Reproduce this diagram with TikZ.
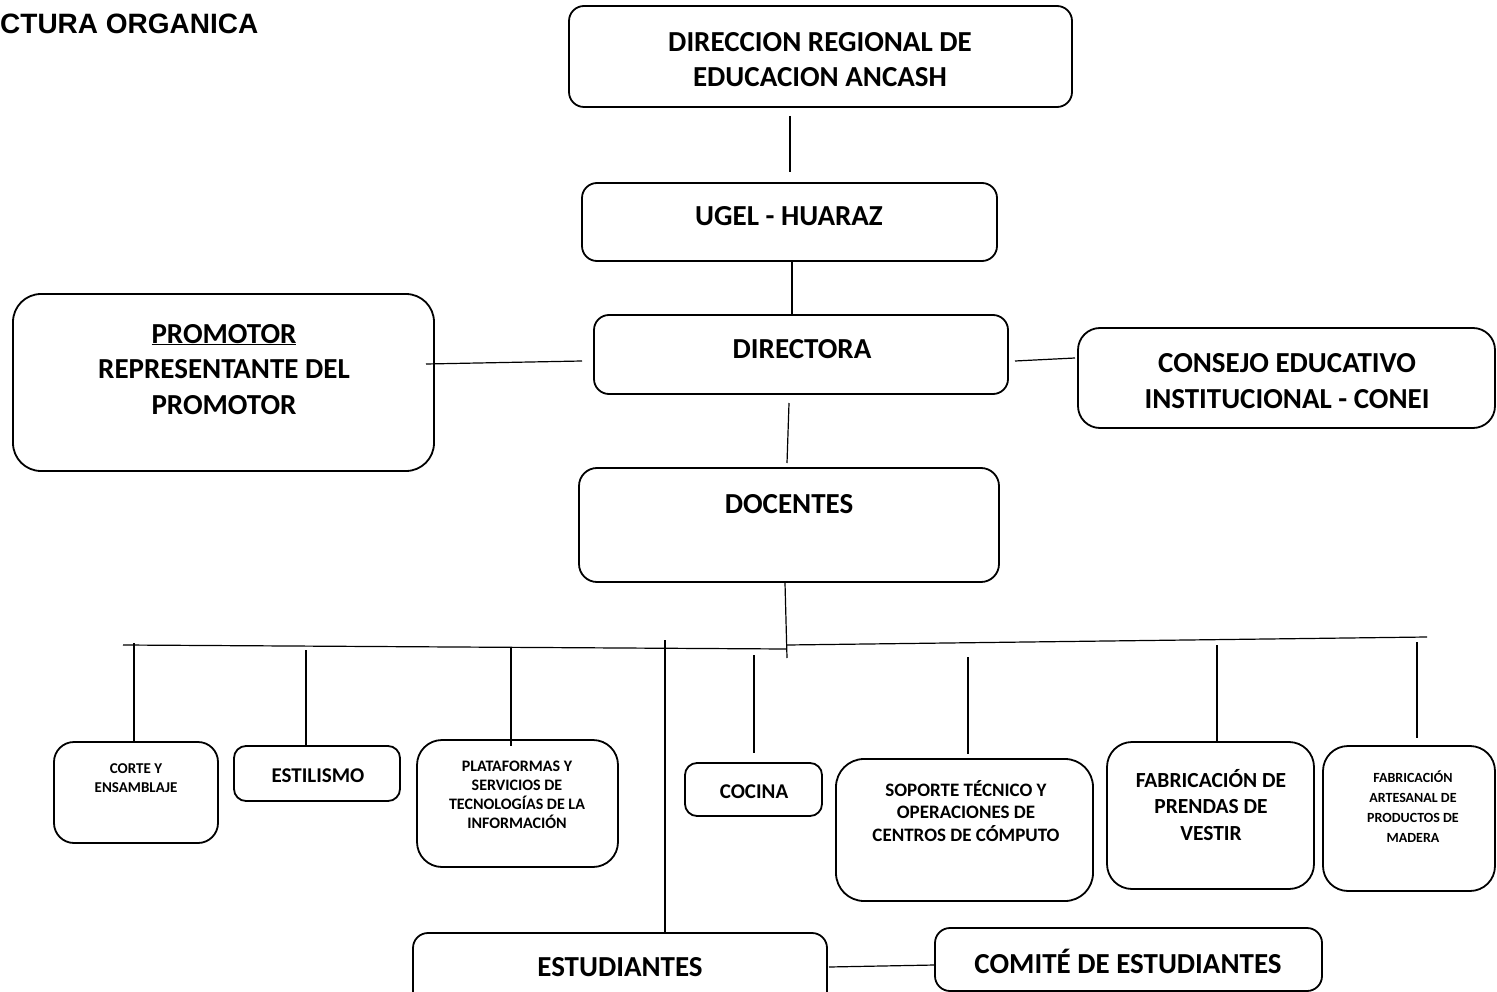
\documentclass[tikz,border=0pt]{standalone}
\usepackage{fontspec}
\setmainfont{Carlito}
\newfontfamily\titlefont{Liberation Sans}
\newcommand{\fsz}[2]{\fontsize{#1}{#2}\selectfont}
\newcommand{\mkbox}[6]{%
  \node[box=#2, minimum width={#5-#3}, minimum height={#6-#4}] (#1) at ({(#3+#5)/2},{(#4+#6)/2}) {};}
\tikzset{
  box/.style={draw, line width=1.8pt, rounded corners=#1, inner sep=0pt, outer sep=0pt},
  box/.default=15pt,
  conn/.style={line width=1.2pt},
  lbl/.style={inner sep=0pt, outer sep=0pt, align=center, anchor=base, font=\bfseries},
}
\begin{document}
\begin{tikzpicture}[x=1pt,y=-1pt]
\useasboundingbox (0,0) rectangle (1497,992);
\clip (0,0) rectangle (1497,992);
\fill[white] (0,0) rectangle (1497,992);

% title
\node[inner sep=0pt, anchor=base west, font=\titlefont\bfseries\fsz{28}{33}] (title) at (0,34) {CTURA ORGANICA};

% boxes
\mkbox{dre}{15pt}{569}{6}{1072}{107}
\mkbox{ugel}{15pt}{582}{183}{997}{261}
\mkbox{dir}{15pt}{594}{315}{1008}{394}
\mkbox{prom}{28pt}{13}{294}{434}{471}
\mkbox{conei}{22pt}{1078}{328}{1495}{428}
\mkbox{doc}{18pt}{579}{468}{999}{582}
\mkbox{corte}{20pt}{54}{742}{218}{843}
\mkbox{estil}{12pt}{234}{746}{400}{801}
\mkbox{plat}{25pt}{417}{740}{618}{867}
\mkbox{cocina}{12pt}{685}{763}{822}{816}
\mkbox{soporte}{28pt}{836}{759}{1093}{901}
\mkbox{prendas}{25pt}{1107}{742}{1314}{889}
\mkbox{artes}{25pt}{1323}{746}{1495}{891}
\mkbox{estud}{15pt}{413}{933}{827}{1010}
\mkbox{comite}{15pt}{935}{928}{1322}{991}

% labels (anchor base = baseline of the last line)
\node[lbl, font=\bfseries\fsz{29}{35}] (dre-t) at (820,87) {DIRECCION REGIONAL DE\\EDUCACION ANCASH};
\node[lbl, font=\bfseries\fsz{29}{35}] (ugel-t) at (789,226) {UGEL - HUARAZ};
\node[lbl, font=\bfseries\fsz{29}{35}] (dir-t) at (802,359) {DIRECTORA};
\node[lbl, font=\bfseries\fsz{29}{35.5}] (prom-t) at (224,414) {\underline{PROMOTOR}\\REPRESENTANTE DEL\\PROMOTOR};
\node[lbl, font=\bfseries\fsz{29}{36}] (conei-t) at (1287,408) {CONSEJO EDUCATIVO\\INSTITUCIONAL - CONEI};
\node[lbl, font=\bfseries\fsz{29}{35}] (doc-t) at (789,513) {DOCENTES};
\node[lbl, font=\bfseries\fsz{15}{19}] (corte-t) at (136,792) {CORTE Y\\ENSAMBLAJE};
\node[lbl, font=\bfseries\fsz{21}{25}] (estil-t) at (318,782) {ESTILISMO};
\node[lbl, font=\bfseries\fsz{16}{19}] (plat-t) at (517,828) {PLATAFORMAS Y\\SERVICIOS DE\\TECNOLOGÍAS DE LA\\INFORMACIÓN};
\node[lbl, font=\bfseries\fsz{21}{25}] (cocina-t) at (754,798) {COCINA};
\node[lbl, font=\bfseries\fsz{19}{22.5}] (soporte-t) at (966,841) {SOPORTE TÉCNICO Y\\OPERACIONES DE\\CENTROS DE CÓMPUTO};
\node[lbl, font=\bfseries\fsz{21.5}{26.5}] (prendas-t) at (1211,840) {FABRICACIÓN DE\\PRENDAS DE\\VESTIR};
\node[lbl, font=\bfseries\fsz{14}{19.7}] (artes-t) at (1413,842) {FABRICACIÓN\\ARTESANAL DE\\PRODUCTOS DE\\MADERA};
\node[lbl, font=\bfseries\fsz{29}{35}] (estud-t) at (620,976) {ESTUDIANTES};
\node[lbl, font=\bfseries\fsz{29}{35}] (comite-t) at (1128,973) {COMITÉ DE ESTUDIANTES};

% connector end points
\coordinate (a1) at (790,116);  \coordinate (a2) at (790,172);
\coordinate (b1) at (792,261);  \coordinate (b2) at (792,315);
\coordinate (c1) at (789,403);  \coordinate (c2) at (787,463);
\coordinate (d1) at (426,364);  \coordinate (d2) at (582,361);
\coordinate (e1) at (1015,361); \coordinate (e2) at (1075,358);
\coordinate (f1) at (785,583);  \coordinate (f2) at (787,658);
\coordinate (busL) at (123,645); \coordinate (busM) at (786,649);
\coordinate (busM2) at (787,645); \coordinate (busR) at (1427,637);
\coordinate (g1) at (134,643);  \coordinate (g2) at (134,742);
\coordinate (h1) at (306,650);  \coordinate (h2) at (306,746);
\coordinate (i1) at (511,647);  \coordinate (i2) at (511,746);
\coordinate (j1) at (665,640);  \coordinate (j2) at (665,933);
\coordinate (k1) at (754,655);  \coordinate (k2) at (754,753);
\coordinate (l1) at (968,657);  \coordinate (l2) at (968,754);
\coordinate (m1) at (1217,645); \coordinate (m2) at (1217,741);
\coordinate (n1) at (1417,642); \coordinate (n2) at (1417,738);
\coordinate (o1) at (829,967);  \coordinate (o2) at (935,965);

\draw[conn] (a1) -- (a2);
\draw[conn] (b1) -- (b2);
\draw[conn] (c1) -- (c2);
\draw[conn] (d1) -- (d2);
\draw[conn] (e1) -- (e2);
\draw[conn] (f1) -- (f2);
\draw[conn] (busL) -- (busM);
\draw[conn] (busM2) -- (busR);
\draw[conn] (g1) -- (g2);
\draw[conn] (h1) -- (h2);
\draw[conn] (i1) -- (i2);
\draw[conn] (j1) -- (j2);
\draw[conn] (k1) -- (k2);
\draw[conn] (l1) -- (l2);
\draw[conn] (m1) -- (m2);
\draw[conn] (n1) -- (n2);
\draw[conn] (o1) -- (o2);
\end{tikzpicture}
\end{document}
